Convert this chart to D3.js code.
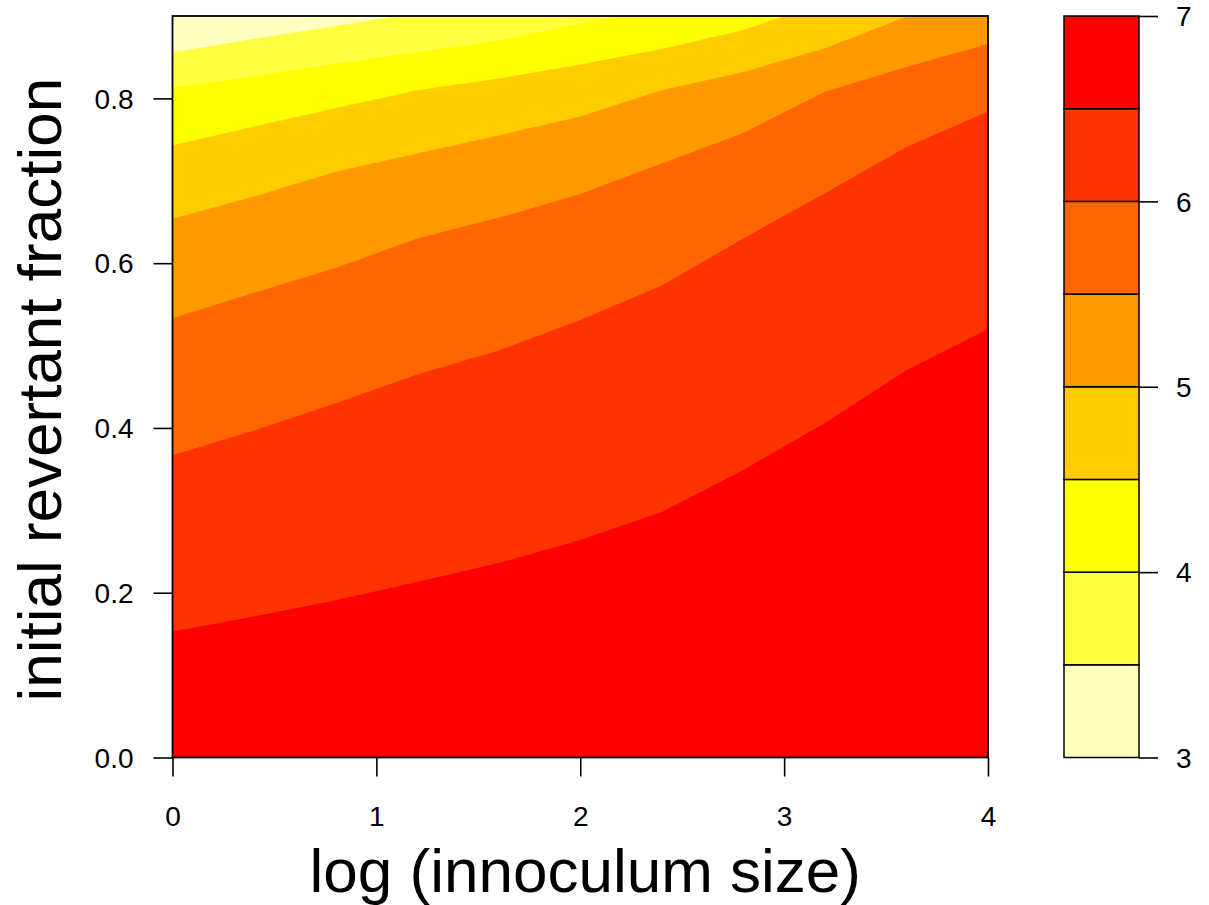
<!DOCTYPE html>
<html>
<head>
<meta charset="utf-8">
<script src="https://cdn.jsdelivr.net/npm/d3@7"></script>
<style>
  body { margin: 0; background: #fff; }
  text { font-family: "Liberation Sans", Arial, Helvetica, sans-serif; fill: #000; }
</style>
</head>
<body>
<svg width="1209" height="905"></svg>
<script>
// grid positions along log(innoculum size)
var xGrid = [0, 0.4, 0.8, 1.2, 1.6, 2.0, 2.4, 2.8, 3.2, 3.6, 4.0];

// contour levels and their fill colours (low -> high)
var levels = [3, 3.5, 4, 4.5, 5, 5.5, 6, 6.5, 7];
var colours = ['#FFFFBF', '#FFFF40', '#FFFF00', '#FFCC00', '#FF9900', '#FF6600', '#FF3300', '#FF0000'];

// initial revertant fraction where each contour level crosses, read at xGrid
var line65 = [0.153, 0.171, 0.191, 0.213, 0.236, 0.264, 0.298, 0.349, 0.406, 0.470, 0.520];
var line60 = [0.367, 0.397, 0.430, 0.465, 0.494, 0.531, 0.573, 0.630, 0.685, 0.741, 0.784];
var line55 = [0.533, 0.564, 0.594, 0.630, 0.655, 0.684, 0.721, 0.758, 0.808, 0.838, 0.866];
var line50 = [0.654, 0.681, 0.711, 0.733, 0.755, 0.778, 0.810, 0.832, 0.861, 0.899, 0.930];
var line45 = [0.743, 0.766, 0.788, 0.810, 0.824, 0.841, 0.860, 0.883, 0.917, 0.945, 0.975];
var line40 = [0.813, 0.827, 0.842, 0.856, 0.870, 0.891, 0.910, 0.930, 0.950, 0.970, 0.990];
var line35 = [0.856, 0.872, 0.888, 0.904, 0.920, 0.936, 0.950, 0.970, 0.990, 1.0, 1.0];

var xTicks = [0, 1, 2, 3, 4];
var yTicks = [0, 0.2, 0.4, 0.6, 0.8];
var legendTicks = [3, 4, 5, 6, 7];

var svg = d3.select('svg');

var plot = {left: 172.5, right: 988, top: 16, bottom: 757.5};

var xScale = d3.scaleLinear().domain([0, 4]).range([plot.left, plot.right]);
var yScale = d3.scaleLinear().domain([0, 0.9]).range([plot.bottom, plot.top]);

svg.append('clipPath').attr('id', 'plotclip')
   .append('rect')
   .attr('x', plot.left).attr('y', plot.top)
   .attr('width', plot.right - plot.left).attr('height', plot.bottom - plot.top);

// each band is painted from its lower contour line up to the top, red first
var lowerLines = [null, line65, line60, line55, line50, line45, line40, line35];
var bands = colours.slice().reverse(); // red ... pale yellow

var area = d3.area()
   .x((d, i) => xScale(xGrid[i]))
   .y0(d => yScale(d))
   .y1(yScale(1.0));

var fills = svg.append('g').attr('clip-path', 'url(#plotclip)');
lowerLines.forEach((ln, i) => {
  var base = ln ? ln : xGrid.map(() => 0);
  fills.append('path')
     .datum(base)
     .attr('d', area)
     .attr('fill', bands[i]);
});

// x axis
var xAxis = svg.append('g')
   .attr('transform', 'translate(0,' + plot.bottom + ')')
   .call(d3.axisBottom(xScale).tickValues(xTicks).tickSize(19).tickFormat(d3.format('d')));
xAxis.select('.domain').remove();
xAxis.selectAll('line').attr('stroke', '#000').attr('stroke-width', 1.6);
xAxis.selectAll('text').attr('y', 68).attr('dy', 0).style('font-size', '28px');

// y axis
var yAxis = svg.append('g')
   .attr('transform', 'translate(' + plot.left + ',0)')
   .call(d3.axisLeft(yScale).tickValues(yTicks).tickSize(19).tickFormat(d3.format('.1f')));
yAxis.select('.domain').remove();
yAxis.selectAll('line').attr('stroke', '#000').attr('stroke-width', 1.6);
yAxis.selectAll('text').attr('x', -39).attr('dy', '0.35em').style('font-size', '28px');

// plot frame
svg.append('rect')
   .attr('x', plot.left).attr('y', plot.top)
   .attr('width', plot.right - plot.left).attr('height', plot.bottom - plot.top)
   .attr('fill', 'none').attr('stroke', '#000').attr('stroke-width', 1.8);

// axis titles
svg.append('text')
   .attr('x', (plot.left + plot.right) / 2 + 5).attr('y', 892)
   .attr('text-anchor', 'middle')
   .style('font-size', '62px')
   .text('log (innoculum size)');

svg.append('text')
   .attr('transform', 'translate(61,' + ((plot.top + plot.bottom) / 2 + 3) + ') rotate(-90)')
   .attr('text-anchor', 'middle')
   .style('font-size', '62px')
   .text('initial revertant fraction');

// colour key
var key = {left: 1064, right: 1139};
var kScale = d3.scaleLinear().domain([3, 7]).range([plot.bottom, plot.top]);

svg.append('g').selectAll('rect')
   .data(colours)
   .enter()
   .append('rect')
   .attr('x', key.left)
   .attr('y', (d, i) => kScale(levels[i + 1]))
   .attr('width', key.right - key.left)
   .attr('height', (d, i) => kScale(levels[i]) - kScale(levels[i + 1]))
   .attr('fill', d => d)
   .attr('stroke', '#000')
   .attr('stroke-width', 1.5);

var kAxis = svg.append('g')
   .attr('transform', 'translate(' + key.right + ',0)')
   .call(d3.axisRight(kScale).tickValues(legendTicks).tickSize(19).tickFormat(d3.format('d')));
kAxis.select('.domain').remove();
kAxis.selectAll('line').attr('stroke', '#000').attr('stroke-width', 1.6);
kAxis.selectAll('text').attr('x', 37).attr('dy', '0.35em').style('font-size', '28px');
</script>
</body>
</html>
